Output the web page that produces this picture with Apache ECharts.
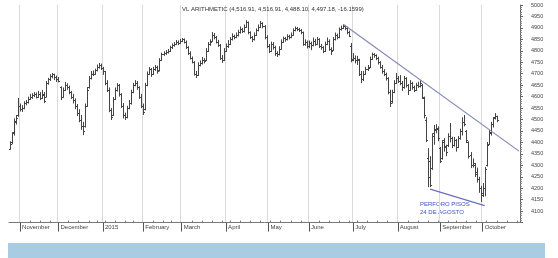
<!DOCTYPE html>
<html>
<head>
<meta charset="utf-8">
<script src="https://cdn.jsdelivr.net/npm/echarts@6/dist/echarts.min.js"></script>
<style>html,body{margin:0;padding:0;background:#fff;}#c{width:558px;height:258px;}</style>
</head>
<body>
<div id="c"></div>
<script>
// ---- data ----
const firstDay = '2014-10-27';
const holidays = ['2014-11-27','2014-12-25','2015-01-01','2015-01-19','2015-02-16','2015-04-03','2015-05-25','2015-07-03','2015-09-07'];
const emptySlots = 11;
const monthNames = ['2015','February','March','April','May','June','July','August','September','October','November','December'];
const yTickStep = 50;
const yMin = 4050, yMax = 5000;

const opens = [4372,4400,4445,4490,4520, 4560,4545,4552,4570,4578, 4590,4600,4605,4612,4600, 4610,4595,4610,4600,4660,
 4675,4690,4698,4685,4675, 4640,4600,4630,4650,4640, 4620,4600,4585,4560,4530, 4500,4470,4470,4560,4640,
 4680,4700,4700,4715,4730, 4740,4725,4710,4660,4630, 4540,4520,4590,4630,4650, 4610,4560,4520,4510,4550,
 4570,4620,4650,4660,4640, 4600,4560,4545,4650,4700, 4720,4700,4720,4730,4715, 4760,4785,4790,4795,4800,
 4815,4825,4830,4840,4835, 4845,4850,4840,4815,4790, 4770,4750,4700,4695,4740, 4745,4760,4760,4800,4830,
 4845,4870,4860,4840,4825, 4770,4760,4800,4820,4830, 4850,4865,4860,4870,4880, 4895,4885,4905,4925,4880,
 4860,4850,4870,4890,4905, 4920,4910,4860,4820,4800, 4830,4815,4790,4785,4810, 4840,4855,4850,4865,4860,
 4870,4890,4900,4895,4890, 4880,4830,4840,4820,4835, 4825,4845,4830,4850,4820, 4815,4800,4830,4845,4810,
 4805,4850,4870,4860,4895, 4900,4910,4900,4880,4820, 4765,4770,4760,4760,4700, 4675,4700,4720,4730,4765,
 4785,4780,4770,4750,4730, 4710,4700,4680,4620,4580, 4620,4660,4680,4670,4660, 4640,4680,4650,4630,4660,
 4640,4630,4650,4645,4650, 4595,4500,4330,4320,4290, 4440,4455,4460,4375,4330, 4410,4380,4390,4430,4420,
 4390,4410,4380,4420,4450, 4490,4450,4400,4345,4300, 4300,4270,4240,4200,4180, 4200,4300,4395,4445,4480,
 4510,4516.91];
const highs = [4405,4445,4505,4520,4594, 4570,4563,4580,4585,4600, 4612,4615,4620,4618,4625, 4620,4629,4620,4668,4682,
 4698,4703,4700,4692,4686, 4645,4640,4664,4658,4648, 4625,4612,4592,4568,4545, 4520,4490,4570,4642,4690,
 4712,4714,4722,4740,4747, 4744,4730,4712,4672,4640, 4550,4598,4640,4659,4655, 4615,4572,4530,4560,4585,
 4630,4660,4672,4668,4645, 4612,4570,4660,4710,4729, 4725,4730,4738,4735,4768, 4792,4798,4803,4808,4822,
 4832,4838,4847,4845,4852, 4856,4854,4845,4820,4798, 4775,4755,4712,4750,4758, 4773,4768,4812,4838,4850,
 4882,4878,4865,4848,4830, 4782,4812,4832,4847,4860, 4876,4870,4880,4892,4906, 4900,4915,4934,4928,4885,
 4865,4880,4898,4915,4930, 4925,4912,4868,4830,4840, 4838,4822,4798,4820,4850, 4862,4860,4872,4870,4880,
 4898,4906,4904,4900,4895, 4884,4850,4845,4845,4840, 4858,4852,4860,4855,4830, 4820,4840,4858,4850,4815,
 4860,4880,4875,4902,4910, 4916,4912,4905,4888,4834, 4790,4780,4778,4765,4712, 4712,4730,4738,4775,4792,
 4790,4785,4774,4755,4738, 4720,4705,4685,4630,4630, 4672,4703,4690,4694,4668, 4690,4685,4655,4672,4665,
 4648,4660,4665,4672,4655, 4600,4510,4375,4340,4440, 4476,4480,4470,4380,4410, 4419,4390,4440,4485,4425,
 4424,4415,4428,4460,4510, 4520,4454,4405,4358,4330, 4310,4290,4250,4210,4223, 4293,4402,4454,4490,4511,
 4528,4516.91];
const lows = [4368,4392,4430,4478,4512, 4535,4533,4545,4562,4570, 4585,4590,4598,4592,4595, 4585,4590,4572,4598,4652,
 4668,4680,4672,4664,4662, 4585,4595,4625,4630,4610, 4590,4570,4545,4515,4488, 4455,4432,4465,4555,4635,
 4675,4690,4695,4710,4722, 4716,4695,4650,4620,4532, 4498,4515,4585,4622,4600, 4550,4505,4498,4505,4545,
 4565,4615,4645,4630,4590, 4550,4520,4540,4645,4695, 4686,4695,4712,4700,4710, 4755,4778,4782,4788,4795,
 4808,4818,4825,4825,4830, 4838,4832,4808,4782,4762, 4745,4692,4681,4690,4732, 4740,4745,4755,4795,4822,
 4840,4850,4832,4817,4760, 4747,4755,4795,4812,4825, 4845,4850,4855,4862,4875, 4878,4880,4900,4872,4852,
 4838,4845,4865,4885,4900, 4898,4850,4812,4790,4795, 4805,4778,4773,4780,4805, 4835,4840,4845,4850,4855,
 4866,4885,4886,4882,4872, 4822,4822,4810,4812,4803, 4820,4822,4825,4812,4805, 4790,4795,4825,4800,4782,
 4800,4845,4850,4855,4888, 4895,4890,4872,4860,4750, 4755,4745,4738,4690,4659, 4668,4695,4712,4725,4760,
 4770,4760,4740,4722,4700, 4690,4670,4610,4555,4570, 4615,4655,4660,4650,4625, 4635,4640,4607,4625,4630,
 4620,4625,4638,4640,4590, 4505,4402,4205,4205,4280, 4390,4440,4405,4310,4325, 4360,4340,4380,4400,4375,
 4382,4360,4375,4412,4430, 4470,4397,4330,4288,4290, 4249,4225,4180,4140,4162, 4165,4295,4390,4430,4465,
 4500,4488.10];
const closes = [4395,4440,4495,4505,4560, 4545,4550,4570,4575,4590, 4600,4605,4612,4600,4610, 4595,4605,4580,4660,4675,
 4690,4700,4685,4675,4670, 4600,4630,4650,4640,4620, 4600,4585,4560,4530,4500, 4470,4450,4560,4630,4680,
 4700,4700,4715,4730,4740, 4725,4710,4660,4630,4540, 4510,4590,4630,4650,4610, 4560,4520,4510,4550,4570,
 4620,4650,4660,4640,4600, 4560,4535,4650,4700,4720, 4700,4720,4730,4710,4760, 4785,4790,4795,4800,4815,
 4825,4830,4840,4835,4845, 4850,4840,4815,4790,4770, 4750,4700,4695,4740,4745, 4760,4755,4800,4830,4840,
 4870,4860,4840,4825,4770, 4760,4800,4820,4830,4850, 4865,4860,4870,4880,4895, 4885,4905,4925,4880,4860,
 4850,4870,4890,4905,4920, 4910,4860,4820,4800,4830, 4815,4790,4785,4810,4840, 4855,4850,4865,4860,4870,
 4890,4900,4895,4890,4880, 4830,4840,4820,4835,4825, 4845,4830,4850,4820,4815, 4800,4830,4845,4810,4800,
 4850,4870,4860,4895,4900, 4910,4900,4880,4865,4760, 4770,4760,4765,4700,4675, 4700,4720,4725,4765,4785,
 4780,4770,4750,4730,4710, 4700,4680,4620,4570,4620, 4660,4680,4670,4660,4640, 4680,4650,4630,4660,4640,
 4630,4650,4645,4660,4600, 4520,4410,4250,4215,4430, 4460,4465,4420,4320,4400, 4385,4358,4430,4420,4390,
 4410,4380,4420,4450,4490, 4480,4410,4340,4300,4310, 4260,4240,4200,4170,4200, 4285,4390,4440,4480,4505,
 4515,4497.18];

// trend lines (category index, value)
const upperTrendIdx = [165, 252];
const upperTrendVal = [4916, 4362];
const lowerTrendIdx = [208, 235];
const lowerTrendVal = [4196, 4124];

const titleText = 'VL ARITHMETIC (4,516.91, 4,516.91, 4,488.10, 4,497.18, -16.1599)';
const noteLines = ['PERFORO PISOS', '24 DE AGOSTO'];

// ---- build trading-day categories ----
const totalSlots = opens.length + emptySlots;
const holSet = new Set(holidays);
const days = [];
(function(){
  const p = firstDay.split('-').map(Number);
  const d = new Date(Date.UTC(p[0], p[1]-1, p[2]));
  while (days.length < totalSlots) {
    const wd = d.getUTCDay();
    const s = d.toISOString().slice(0,10);
    if (wd !== 0 && wd !== 6 && !holSet.has(s)) days.push(s);
    d.setUTCDate(d.getUTCDate()+1);
  }
})();
const isMonthStart = days.map((s,i) => i > 0 && s.slice(5,7) !== days[i-1].slice(5,7));
const isWeekStart = days.map((s,i) => {
  if (i === 0 || isMonthStart[i]) return false;
  const a = new Date(s+'T00:00:00Z').getUTCDay();
  const b = new Date(days[i-1]+'T00:00:00Z').getUTCDay();
  return a < b;
});
function monthLabel(s){ const m = Number(s.slice(5,7)); return monthNames[m-1]; }

const ohlc = opens.map((o,i) => [i, o, highs[i], lows[i], closes[i]]);

const barColor = '#444444';
const chart = echarts.init(document.getElementById('c'), null, {renderer:'canvas'});
chart.setOption({
  animation: false,
  backgroundColor: '#ffffff',
  title: {
    text: titleText, left: 177, top: 1,
    textStyle: {fontSize: 6, fontWeight: 'normal', color: '#333', fontFamily: 'Liberation Sans, Arial, sans-serif'}
  },
  grid: {left: 9, right: 38, top: 5, bottom: 35.4, containLabel: false},
  xAxis: [{
    type: 'category', data: days, boundaryGap: true,
    axisLine: {show: true, lineStyle: {color: '#777', width: 1}},
    axisTick: {show: true, alignWithLabel: true, length: 9, interval: (i) => isMonthStart[i], lineStyle: {color: '#555'}},
    axisLabel: {
      show: true, interval: (i) => isMonthStart[i], formatter: (v) => monthLabel(v),
      align: 'left', verticalAlign: 'middle', margin: 5, padding: [0,0,0,2],
      fontSize: 6, color: '#444', fontFamily: 'Liberation Sans, Arial, sans-serif'
    },
    splitLine: {show: true, interval: (i) => isMonthStart[i], lineStyle: {color: '#dadada', width: 1}}
  }, {
    type: 'category', data: days, boundaryGap: true, position: 'bottom',
    axisLine: {show: false},
    axisTick: {show: true, alignWithLabel: true, inside: true, length: 2, interval: (i) => isWeekStart[i], lineStyle: {color: '#777'}},
    axisLabel: {show: false}, splitLine: {show: false}
  }],
  yAxis: {
    type: 'value', position: 'right', min: yMin, max: yMax, interval: yTickStep,
    axisLine: {show: true, lineStyle: {color: '#666'}},
    axisTick: {show: true, length: 3, lineStyle: {color: '#666'}},
    minorTick: {show: true, splitNumber: 5, length: 2, lineStyle: {color: '#888'}},
    axisLabel: {showMinLabel: false, margin: 11, fontSize: 5.5, color: '#444', formatter: (v) => String(v),
      fontFamily: 'Liberation Sans, Arial, sans-serif'},
    splitLine: {show: false}
  },
  series: [{
    type: 'custom',
    xAxisIndex: 0,
    data: ohlc,
    encode: {x: 0, y: [1,2,3,4]},
    renderItem: function(params, api){
      const i = api.value(0);
      const h = api.coord([i, api.value(2)]);
      const l = api.coord([i, api.value(3)]);
      const o = api.coord([i, api.value(1)]);
      const c = api.coord([i, api.value(4)]);
      const x = Math.round(h[0]) + 0.5;
      const st = {stroke: barColor, lineWidth: 1};
      const oy = Math.round(o[1]) + 0.5, cy = Math.round(c[1]) + 0.5;
      return {type: 'group', children: [
        {type: 'line', shape: {x1: x, y1: h[1], x2: x, y2: l[1]}, style: st},
        {type: 'line', shape: {x1: x - 1.5, y1: oy, x2: x, y2: oy}, style: st},
        {type: 'line', shape: {x1: x, y1: cy, x2: x + 1.5, y2: cy}, style: st}
      ]};
    }
  }, {
    type: 'line', xAxisIndex: 0, symbol: 'none',
    data: upperTrendIdx.map((x,k) => [x, upperTrendVal[k]]),
    lineStyle: {color: '#8489b8', width: 1.2}
  }, {
    type: 'line', xAxisIndex: 0, symbol: 'none',
    data: lowerTrendIdx.map((x,k) => [x, lowerTrendVal[k]]),
    lineStyle: {color: '#6a6fc0', width: 1.2}
  }],
  graphic: [{
    type: 'rect', left: 8, top: 243, shape: {width: 537, height: 15},
    style: {fill: '#a8cde2'}, silent: true
  }, {
    type: 'text', left: 420, top: 200,
    style: {text: noteLines.join('\n'), fill: '#3d52c2', fontSize: 6, lineHeight: 8, fontFamily: 'Liberation Sans, Arial, sans-serif'}
  }]
});
</script>
</body>
</html>
